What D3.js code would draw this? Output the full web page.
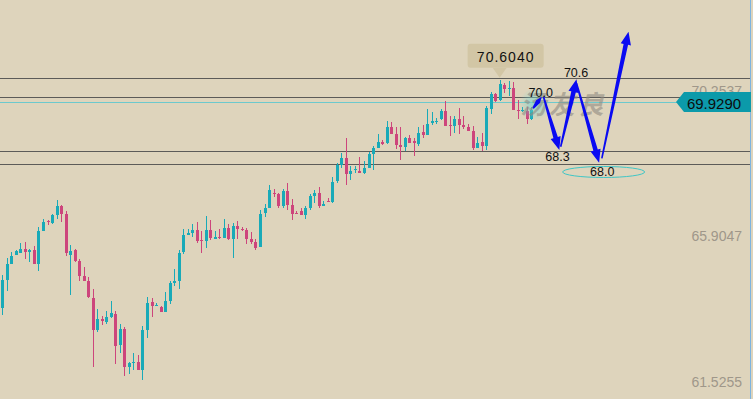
<!DOCTYPE html>
<html>
<head>
<meta charset="utf-8">
<script src="https://cdn.jsdelivr.net/npm/d3@7"></script>
<style>
    html, body { margin: 0; padding: 0; background: #ded4bc; overflow: hidden; }
    svg { display: block; font-family: "Liberation Sans", Arial, sans-serif; }
</style>
</head>
<body>
<div id="container"></div>
<script>
"use strict"

// candle data, oldest first
const opens = [
    63.75, 64.58, 65.06, 65.33, 65.39, 65.51, 65.42, 65.48, 65.06, 66.05,
    66.35, 66.30, 66.54, 66.81, 66.57, 65.33, 65.48, 65.15, 64.70, 64.55,
    64.04, 63.08, 63.41, 63.32, 63.47, 63.56, 62.63, 63.11, 61.97, 62.09,
    62.12, 61.88, 63.08, 63.92, 63.80, 63.77, 63.62, 63.95, 64.49, 64.55,
    65.42, 65.93, 66.00, 66.09, 65.78, 65.75, 66.09, 65.81, 65.87, 65.84,
    66.15, 65.81, 66.21, 66.12, 66.09, 65.81, 65.72, 65.57, 66.60, 66.75,
    67.20, 67.17, 66.81, 67.26, 66.84, 66.60, 66.66, 66.54, 66.75, 67.11,
    67.20, 66.81, 66.96, 66.93, 67.56, 68.04, 68.25, 67.77, 67.89, 67.86,
    67.80, 67.95, 68.37, 68.55, 68.73, 68.70, 69.18, 68.97, 68.64, 68.58,
    68.85, 68.76, 68.67, 69.03, 68.94, 69.30, 69.33, 69.42, 69.66, 69.24,
    69.21, 69.42, 69.24, 69.18, 69.06, 68.55, 68.73, 68.61, 69.72, 70.18,
    70.00, 70.45, 70.33, 70.36, 69.69, 69.66, 69.66, 69.42
];
const highs = [
    64.73, 65.23, 65.42, 65.48, 65.69, 65.72, 65.51, 65.60, 66.17, 66.42,
    66.39, 66.57, 66.99, 66.84, 66.66, 65.63, 65.51, 65.21, 64.97, 64.67,
    64.31, 63.71, 63.50, 63.65, 63.95, 63.65, 63.26, 63.17, 62.12, 62.39,
    62.33, 63.20, 64.07, 64.04, 63.89, 63.80, 64.22, 64.55, 64.91, 65.48,
    66.12, 66.12, 66.27, 66.33, 66.06, 66.51, 66.39, 66.06, 66.12, 66.42,
    66.27, 66.30, 66.36, 66.18, 66.15, 66.03, 65.81, 66.69, 66.87, 67.44,
    67.32, 67.20, 67.32, 67.50, 67.02, 66.66, 66.75, 66.81, 67.17, 67.29,
    67.38, 66.96, 67.05, 67.68, 68.10, 68.40, 68.85, 68.01, 68.01, 68.28,
    68.16, 68.43, 68.61, 68.97, 68.79, 69.36, 69.33, 69.18, 69.18, 68.88,
    68.94, 68.85, 69.18, 69.24, 69.72, 69.63, 69.45, 69.72, 69.97, 69.51,
    69.51, 69.75, 69.51, 69.27, 69.21, 68.88, 69.00, 69.81, 70.24, 70.21,
    70.604, 70.51, 70.57, 70.54, 70.00, 69.78, 69.78, 69.78
];
const lows = [
    63.53, 64.26, 65.06, 65.33, 65.39, 65.21, 65.12, 65.06, 64.85, 66.05,
    66.23, 66.27, 66.42, 66.32, 65.30, 64.13, 65.12, 64.55, 64.55, 64.04,
    61.97, 63.02, 63.23, 63.26, 63.44, 62.06, 62.39, 61.69, 61.75, 61.88,
    61.88, 61.57, 62.84, 63.47, 63.80, 63.62, 63.62, 63.86, 64.40, 64.31,
    65.36, 65.93, 65.87, 65.69, 65.39, 65.54, 65.78, 65.81, 65.81, 65.84,
    65.78, 65.24, 65.81, 66.06, 65.66, 65.66, 65.48, 65.57, 66.48, 66.75,
    67.08, 66.75, 66.75, 66.69, 66.39, 66.57, 66.54, 66.42, 66.69, 66.90,
    66.75, 66.81, 66.93, 66.90, 67.50, 67.95, 67.44, 67.59, 67.80, 67.80,
    67.77, 67.95, 67.89, 68.55, 68.64, 68.67, 68.97, 68.52, 68.19, 68.46,
    68.70, 68.31, 68.61, 68.85, 68.94, 69.24, 69.27, 69.39, 69.21, 68.91,
    69.00, 68.97, 69.12, 69.06, 68.49, 68.55, 68.46, 68.49, 69.57, 69.94,
    69.97, 70.21, 70.12, 69.69, 69.42, 69.63, 69.27, 69.39
];
const closes = [
    64.58, 65.06, 65.30, 65.45, 65.51, 65.42, 65.48, 65.06, 66.05, 66.32,
    66.32, 66.54, 66.81, 66.57, 65.39, 65.45, 65.15, 64.70, 64.55, 64.07,
    63.08, 63.41, 63.35, 63.47, 63.59, 62.60, 63.11, 61.97, 62.09, 62.12,
    61.88, 63.08, 63.89, 63.80, 63.83, 63.62, 63.95, 64.49, 64.55, 65.39,
    65.93, 66.00, 66.09, 65.75, 65.75, 66.09, 65.84, 65.87, 65.84, 66.15,
    65.81, 66.21, 66.12, 66.09, 65.81, 65.72, 65.54, 66.57, 66.75, 67.29,
    67.17, 66.81, 67.26, 66.84, 66.57, 66.57, 66.54, 66.75, 67.11, 67.20,
    66.81, 66.87, 66.93, 67.53, 68.04, 68.25, 67.77, 67.86, 67.92, 67.80,
    67.95, 68.37, 68.55, 68.73, 68.67, 69.18, 68.97, 68.64, 68.58, 68.85,
    68.70, 68.70, 69.00, 68.94, 69.27, 69.36, 69.36, 69.66, 69.21, 69.21,
    69.42, 69.24, 69.18, 69.06, 68.55, 68.70, 68.61, 69.75, 70.18, 69.97,
    70.48, 70.33, 70.36, 69.69, 69.66, 69.69, 69.42, 69.69
];

// price axis and levels
const axisTicks = [61.5255, 65.9047, 70.2537];
const levels = [70.65, 70.08, 68.46, 68.06];
const lastPrice = 69.9290;

// projected path: [candle index, price]
const arrowStarts = [[118.4, 69.75], [120.7, 70.09], [124.5, 68.59], [128.0, 70.50], [133.6, 68.24]];
const arrowEnds = [[120.3, 70.09], [124.2, 68.49], [128.0, 70.62], [133.0, 68.11], [139.5, 72.05]];
const targetLabels = ["70.0", "68.3", "70.6", "68.0"];
const targetPoints = [[120.1, 70.20], [123.8, 68.28], [127.9, 70.81], [133.7, 67.83]];
const ellipseCenter = [134.0, 67.83];

const width = 753;
const height = 399;
const tealColor = "#19aab8";
const pinkColor = "#cd457c";

let candles;
let xScale;
let yScale;
let svg;


function Main()
{
    BuildData();
    CreateScales();
    CreateSVG();
    DrawLevels();
    DrawCandles();
    DrawWatermark();
    DrawArrows();
    DrawAxis();
    DrawHighLabel();
    document.getElementById("container").append(svg.node());
};


function BuildData()
{
    candles = opens.map((o, i) => ({
        index: i + 1,
        open: o,
        high: highs[i],
        low: lows[i],
        close: closes[i]
    }));
};


function CreateScales()
{
    xScale = d3.scaleLinear()
        .domain([1, candles.length])
        .range([2.3, 531.3]);

    yScale = d3.scaleLinear()
        .domain([axisTicks[0], axisTicks[2]])
        .range([381.6, 91.4]);
};


function CreateSVG()
{
    svg = d3.create("svg")
        .attr("width", width)
        .attr("height", height);

    svg.append("rect")
        .attr("width", width)
        .attr("height", height)
        .attr("fill", "#ded4bc");

    const defs = svg.append("defs");
    const glow = defs.append("radialGradient").attr("id", "glow");
    glow.append("stop").attr("offset", "0%").attr("stop-color", "#6fd6d4").attr("stop-opacity", 0.75);
    glow.append("stop").attr("offset", "100%").attr("stop-color", "#6fd6d4").attr("stop-opacity", 0);
};


function DrawLevels()
{
    svg.append("g")
        .selectAll("line")
        .data(levels)
        .enter()
        .append("line")
        .attr("x1", 0)
        .attr("x2", 750)
        .attr("y1", d => Math.round(yScale(d)) + 0.5)
        .attr("y2", d => Math.round(yScale(d)) + 0.5)
        .attr("stroke", "#5c5b58")
        .attr("stroke-width", 1);

    // last price line
    svg.append("line")
        .attr("x1", 0)
        .attr("x2", 680)
        .attr("y1", Math.round(yScale(lastPrice)) + 0.5)
        .attr("y2", Math.round(yScale(lastPrice)) + 0.5)
        .attr("stroke", "#6cc9cd")
        .attr("stroke-width", 1);

    svg.append("line")
        .attr("x1", 750.5)
        .attr("x2", 750.5)
        .attr("y1", 0)
        .attr("y2", height)
        .attr("stroke", "#7db3de")
        .attr("stroke-width", 1);
};


function DrawCandles()
{
    const g = svg.append("g");
    const colorOf = d => d.close >= d.open ? tealColor : pinkColor;

    g.selectAll(".wick")
        .data(candles)
        .enter()
        .append("line")
        .attr("class", "wick")
        .attr("x1", d => Math.round(xScale(d.index)) + 0.5)
        .attr("x2", d => Math.round(xScale(d.index)) + 0.5)
        .attr("y1", d => Math.round(yScale(d.high)))
        .attr("y2", d => Math.round(yScale(d.low)))
        .attr("stroke", colorOf)
        .attr("stroke-width", 1);

    g.selectAll(".body")
        .data(candles)
        .enter()
        .append("rect")
        .attr("class", "body")
        .attr("x", d => Math.round(xScale(d.index)) - 1)
        .attr("width", 3)
        .attr("y", d => Math.round(yScale(Math.max(d.open, d.close))))
        .attr("height", d => Math.max(1, Math.round(yScale(Math.min(d.open, d.close))) - Math.round(yScale(Math.max(d.open, d.close)))))
        .attr("fill", colorOf);
};


function DrawWatermark()
{
    svg.append("circle")
        .attr("cx", xScale(arrowStarts[0][0]) + 2)
        .attr("cy", yScale(arrowStarts[0][1]) - 4)
        .attr("r", 16)
        .attr("fill", "url(#glow)");

    svg.append("text")
        .attr("x", 520)
        .attr("y", 114)
        .attr("font-family", "'Noto Sans CJK SC', sans-serif")
        .attr("font-size", 26)
        .attr("font-style", "italic")
        .attr("font-weight", "bold")
        .attr("letter-spacing", 3)
        .attr("fill", "#8f8b82")
        .attr("fill-opacity", 0.6)
        .text("汤友良");
};


function ArrowPolygon(start, end)
{
    const x0 = xScale(start[0]), y0 = yScale(start[1]);
    const x1 = xScale(end[0]), y1 = yScale(end[1]);
    const len = Math.hypot(x1 - x0, y1 - y0);
    const ux = (x1 - x0) / len, uy = (y1 - y0) / len;
    const nx = -uy, ny = ux;
    const head = Math.min(13, len * 0.45);
    const headHalf = head * 0.4;
    const bx = x1 - ux * head, by = y1 - uy * head;
    const w0 = 0.8, w1 = 2.3;

    const pts = [
        [x0 + nx * w0, y0 + ny * w0],
        [bx + nx * w1, by + ny * w1],
        [bx + nx * headHalf, by + ny * headHalf],
        [x1, y1],
        [bx - nx * headHalf, by - ny * headHalf],
        [bx - nx * w1, by - ny * w1],
        [x0 - nx * w0, y0 - ny * w0]
    ];
    return pts.map(p => p.join(",")).join(" ");
};


function DrawArrows()
{
    svg.append("ellipse")
        .attr("cx", xScale(ellipseCenter[0]))
        .attr("cy", yScale(ellipseCenter[1]))
        .attr("rx", 41)
        .attr("ry", 5.5)
        .attr("fill", "none")
        .attr("stroke", "#3fc6c6")
        .attr("stroke-width", 1);

    svg.append("g")
        .selectAll("polygon")
        .data(arrowStarts)
        .enter()
        .append("polygon")
        .attr("points", (d, i) => ArrowPolygon(d, arrowEnds[i]))
        .attr("fill", "#0a0af2");

    svg.append("g")
        .selectAll("text")
        .data(targetLabels)
        .enter()
        .append("text")
        .attr("x", (_, i) => xScale(targetPoints[i][0]))
        .attr("y", (_, i) => yScale(targetPoints[i][1]))
        .attr("text-anchor", "middle")
        .attr("dominant-baseline", "central")
        .attr("font-size", 12.5)
        .attr("fill", "#111")
        .text(d => d);
};


function DrawAxis()
{
    const axis = svg.append("g")
        .attr("transform", "translate(742,0)")
        .call(d3.axisLeft(yScale)
            .tickValues(axisTicks)
            .tickFormat(d3.format(".4f"))
            .tickSize(0)
            .tickPadding(0));

    axis.select(".domain").remove();
    axis.selectAll("text")
        .attr("font-size", 14)
        .attr("font-family", "'Liberation Sans', Arial, sans-serif")
        .attr("fill", "#9f978a");

    // last price tag
    const ty = Math.round(yScale(lastPrice));
    const tag = svg.append("g");
    tag.append("polygon")
        .attr("points", [[676, ty], [684, ty - 10], [751, ty - 10], [751, ty + 10], [684, ty + 10]].map(p => p.join(",")).join(" "))
        .attr("fill", "#0c9aaa");
    tag.append("text")
        .attr("x", 714)
        .attr("y", ty + 1)
        .attr("text-anchor", "middle")
        .attr("dominant-baseline", "central")
        .attr("font-size", 15)
        .attr("fill", "#0d0d0d")
        .text(d3.format(".4f")(lastPrice));
};


function DrawHighLabel()
{
    const top = candles.reduce((a, b) => b.high > a.high ? b : a);
    const tx = xScale(top.index);
    const ty = yScale(top.high) - 2;

    const g = svg.append("g");
    g.append("rect")
        .attr("x", tx - 32)
        .attr("y", ty - 34)
        .attr("width", 76)
        .attr("height", 24)
        .attr("rx", 3)
        .attr("fill", "#d2c6a5");
    g.append("polygon")
        .attr("points", [[tx - 7, ty - 10], [tx + 7, ty - 10], [tx, ty]].map(p => p.join(",")).join(" "))
        .attr("fill", "#d2c6a5");
    g.append("text")
        .attr("x", tx + 6)
        .attr("y", ty - 21)
        .attr("text-anchor", "middle")
        .attr("dominant-baseline", "central")
        .attr("font-size", 14)
        .attr("letter-spacing", 1)
        .attr("fill", "#111")
        .text(d3.format(".4f")(top.high));
};


Main();
</script>
</body>
</html>
